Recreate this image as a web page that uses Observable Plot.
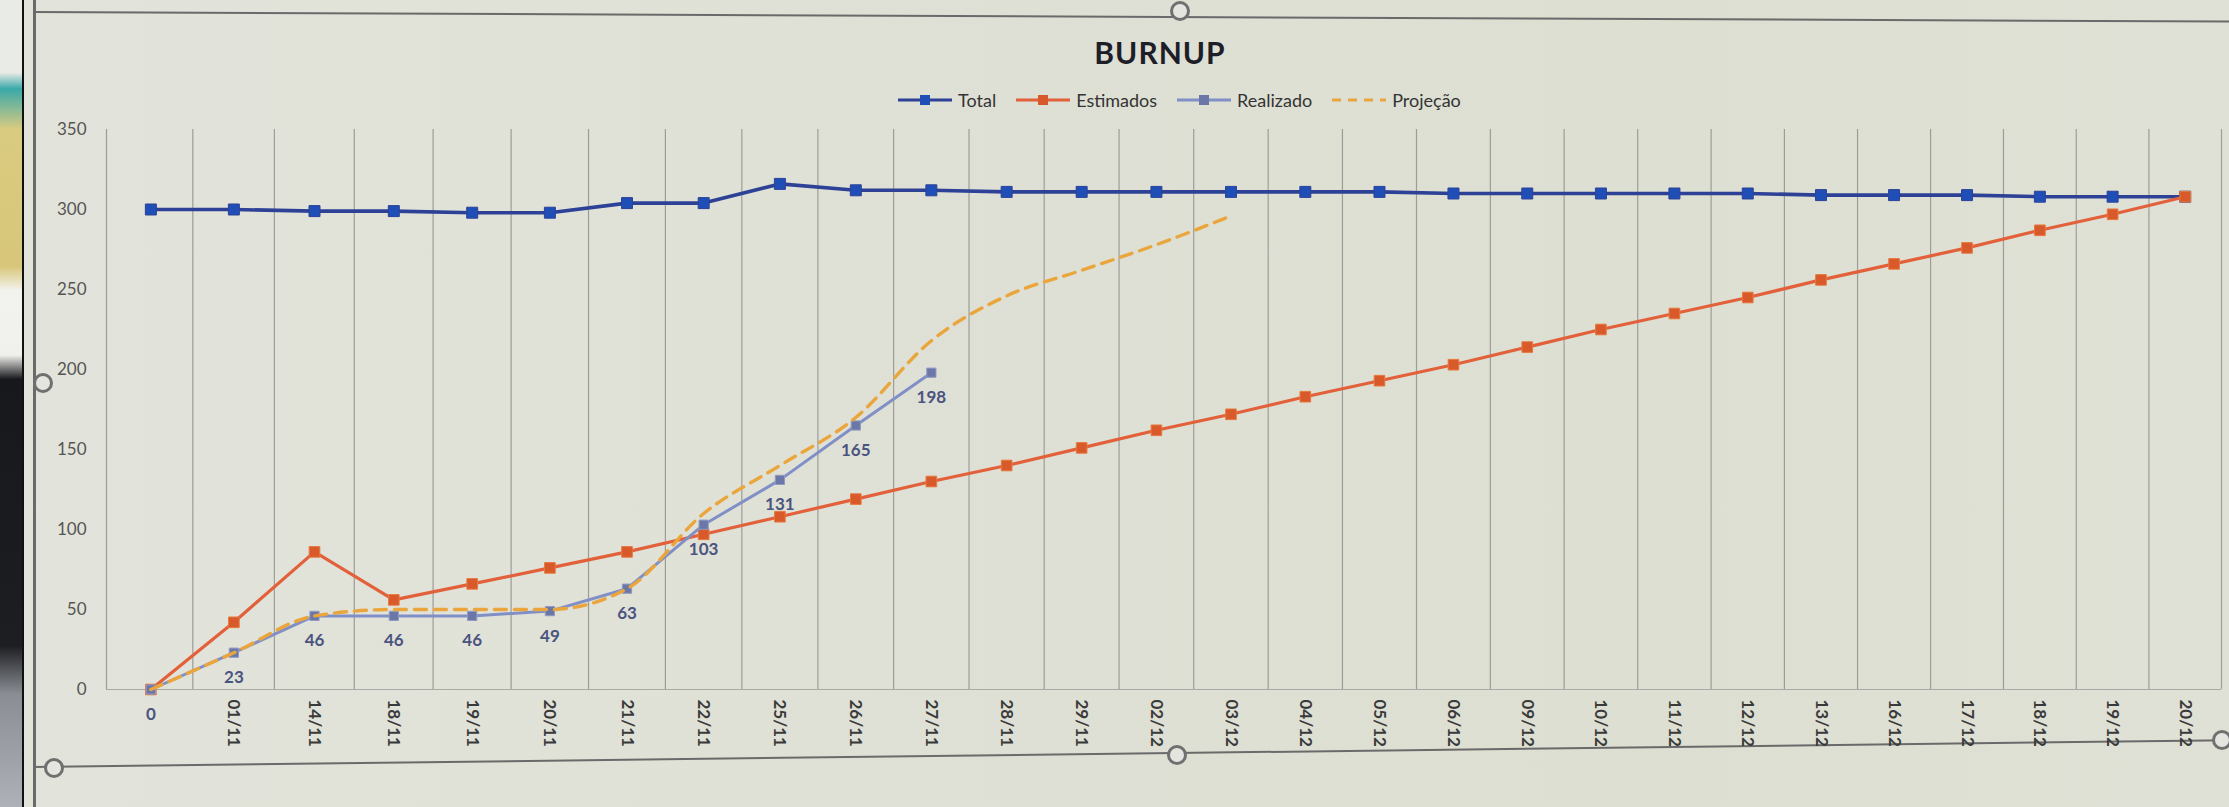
<!DOCTYPE html>
<html>
<head>
<meta charset="utf-8">
<script src="https://cdn.jsdelivr.net/npm/d3@7"></script>
<script src="https://cdn.jsdelivr.net/npm/@observablehq/plot@0.6"></script>
<style>
  html, body { margin: 0; padding: 0; }
  body { width: 2229px; height: 807px; overflow: hidden; position: relative;
         background: linear-gradient(90deg, #e2e3da 0%, #dfe0d5 45%, #dddfd2 75%, #e0e1d6 100%);
         font-family: Lato, "Open Sans", sans-serif; }
  #header { position: absolute; left: 0; top: 0; width: 2229px; height: 115px; }
  #title { position: absolute; left: 1160px; top: 34px; transform: translateX(-50%);
           font-size: 30px; font-weight: bold; letter-spacing: 1px; color: #1e1e28; }
  #legend { position: absolute; left: 898px; top: 89px; display: flex; align-items: center;
            font-size: 18px; color: #333; }
  .item { display: flex; align-items: center; margin-right: 20px; }
  .item svg { margin-right: 6px; }
  #chart { position: absolute; left: 0; top: 115px; }
  #strip { position: absolute; left: 0; top: 0; width: 22px; height: 807px;
           background: linear-gradient(180deg, #e9ebe6 0%, #e9ebe6 9%, #3aa9a9 11%, #d9cb80 16%, #d8c77a 33%, #f2f2ee 36%, #f0f0ec 44%, #17181c 47%, #1d1e22 80%, #8a8e94 86%, #aeb2b8 100%);
           border-right: 2px solid #111; }
  .frame { position: absolute; background: #6a6a6a; }
  .handle { position: absolute; width: 14px; height: 14px; border: 3px solid #707070; border-radius: 50%;
            background: #e4e5de; transform: translate(-50%, -50%); }
</style>
</head>
<body>
<div id="strip"></div>
<div class="frame" style="left:33px; top:0; width:3px; height:807px;"></div>
<div class="frame" style="left:33px; top:11px; width:2200px; height:2px; transform: rotate(0.25deg); transform-origin: left;"></div>
<div class="frame" style="left:33px; top:766px; width:2200px; height:2px; transform: rotate(-0.7deg); transform-origin: left;"></div>
<div id="header">
  <div id="title">BURNUP</div>
  <div id="legend"></div>
</div>
<div id="chart"></div>
<div class="handle" style="left:1180px; top:11px;"></div>
<div class="handle" style="left:43px; top:383px;"></div>
<div class="handle" style="left:54px; top:768px;"></div>
<div class="handle" style="left:1177px; top:755px;"></div>
<div class="handle" style="left:2222px; top:740px;"></div>
<script>
// ---- Data ----
const categories = ["", "01/11", "14/11", "18/11", "19/11", "20/11", "21/11", "22/11", "25/11", "26/11",
  "27/11", "28/11", "29/11", "02/12", "03/12", "04/12", "05/12", "06/12", "09/12", "10/12",
  "11/12", "12/12", "13/12", "16/12", "17/12", "18/12", "19/12", "20/12"];
const totalValues = [300, 300, 299, 299, 298, 298, 304, 304, 316, 312,
  312, 311, 311, 311, 311, 311, 311, 310, 310, 310,
  310, 310, 309, 309, 309, 308, 308, 308];
const estimadosValues = [0, 42, 86, 56, 66, 76, 86, 97, 108, 119,
  130, 140, 151, 162, 172, 183, 193, 203, 214, 225,
  235, 245, 256, 266, 276, 287, 297, 308];
const realizadoValues = [0, 23, 46, 46, 46, 49, 63, 103, 131, 165, 198];
const projecaoValues = [0, 23, 46, 50, 50, 50, 63, 110, 140, 170, 218, 246, 262, 278, 296];
const yTicks = [0, 50, 100, 150, 200, 250, 300, 350];
const seriesNames = ["Total", "Estimados", "Realizado", "Projeção"];

const colors = {
  totalLine: "#2d4197", totalMark: "#1f4fb6",
  estLine: "#e2603a", estMark: "#d8592a",
  realLine: "#8090c6", realMark: "#6b77a6",
  proj: "#eaa63c", label: "#4a5480"
};

// category i is centred at i + 0.5; band edges (gridlines) are at integers
const toRows = arr => arr.map((v, i) => ({u: i + 0.5, v}));
const total = toRows(totalValues);
const estimados = toRows(estimadosValues);
const realizado = toRows(realizadoValues);
const projecao = toRows(projecaoValues);

const chart = Plot.plot({
  width: 2229,
  height: 692,
  marginTop: 14,
  marginBottom: 118,
  marginLeft: 106,
  marginRight: 8,
  // slight perspective of the photographed screen
  x: {type: "pow", exponent: 0.96, domain: [0, categories.length]},
  y: {domain: [0, 350]},
  style: {background: "transparent", fontFamily: "Lato, 'Open Sans', sans-serif", overflow: "visible"},
  marks: [
    Plot.ruleX(d3.range(categories.length + 1), {x: d => d, y1: 0, y2: 350, stroke: "#9c9d98", strokeWidth: 1.2}),
    Plot.ruleY([0], {stroke: "#a9aaa5", strokeWidth: 1.2}),
    Plot.axisY({ticks: yTicks, tickSize: 0, tickPadding: 20, fontSize: 17, fill: "#555", label: null}),
    Plot.axisX({ticks: d3.range(categories.length).map(i => i + 0.5), tickFormat: u => categories[Math.round(u - 0.5)], tickRotate: 90,
      tickSize: 0, tickPadding: 10, fontSize: 17, fontWeight: "bold", fill: "#3a3a3a", label: null}),
    // Total
    Plot.line(total, {x: "u", y: "v", stroke: colors.totalLine, strokeWidth: 3.6}),
    Plot.dot(total, {x: "u", y: "v", symbol: "square", r: 6.2, fill: colors.totalMark, stroke: colors.totalLine, strokeWidth: 1}),
    // Estimados
    Plot.line(estimados, {x: "u", y: "v", stroke: colors.estLine, strokeWidth: 3.2}),
    Plot.dot(estimados, {x: "u", y: "v", symbol: "square", r: 6, fill: colors.estMark, stroke: "#e8793f", strokeWidth: 1}),
    // Realizado
    Plot.line(realizado, {x: "u", y: "v", stroke: colors.realLine, strokeWidth: 3}),
    Plot.dot(realizado, {x: "u", y: "v", symbol: "square", r: 5.2, fill: colors.realMark, stroke: "#8f9ac4", strokeWidth: 1}),
    // Projeção
    Plot.line(projecao, {x: "u", y: "v", stroke: colors.proj, strokeWidth: 3.4, strokeDasharray: "12,8", curve: "monotone-x"}),
    // data labels of Realizado
    Plot.text(realizado, {x: "u", y: "v", text: d => String(d.v), dy: 25, fill: colors.label, fontSize: 17, fontWeight: "bold"})
  ]
});
document.getElementById("chart").appendChild(chart);

// legend
const legendSpec = [
  {name: seriesNames[0], line: colors.totalLine, mark: colors.totalMark, dash: null},
  {name: seriesNames[1], line: colors.estLine, mark: colors.estMark, dash: null},
  {name: seriesNames[2], line: colors.realLine, mark: colors.realMark, dash: null},
  {name: seriesNames[3], line: colors.proj, mark: null, dash: "9,7"}
];
const legend = document.getElementById("legend");
for (const s of legendSpec) {
  const item = document.createElement("div");
  item.className = "item";
  const w = 54;
  let svg = `<svg width="${w}" height="14"><line x1="0" x2="${w}" y1="7" y2="7" stroke="${s.line}" stroke-width="3"${s.dash ? ` stroke-dasharray="${s.dash}"` : ""}/>`;
  if (s.mark) svg += `<rect x="${w / 2 - 5}" y="2" width="10" height="10" fill="${s.mark}"/>`;
  svg += `</svg>`;
  item.innerHTML = svg + `<span>${s.name}</span>`;
  legend.appendChild(item);
}
</script>
</body>
</html>
